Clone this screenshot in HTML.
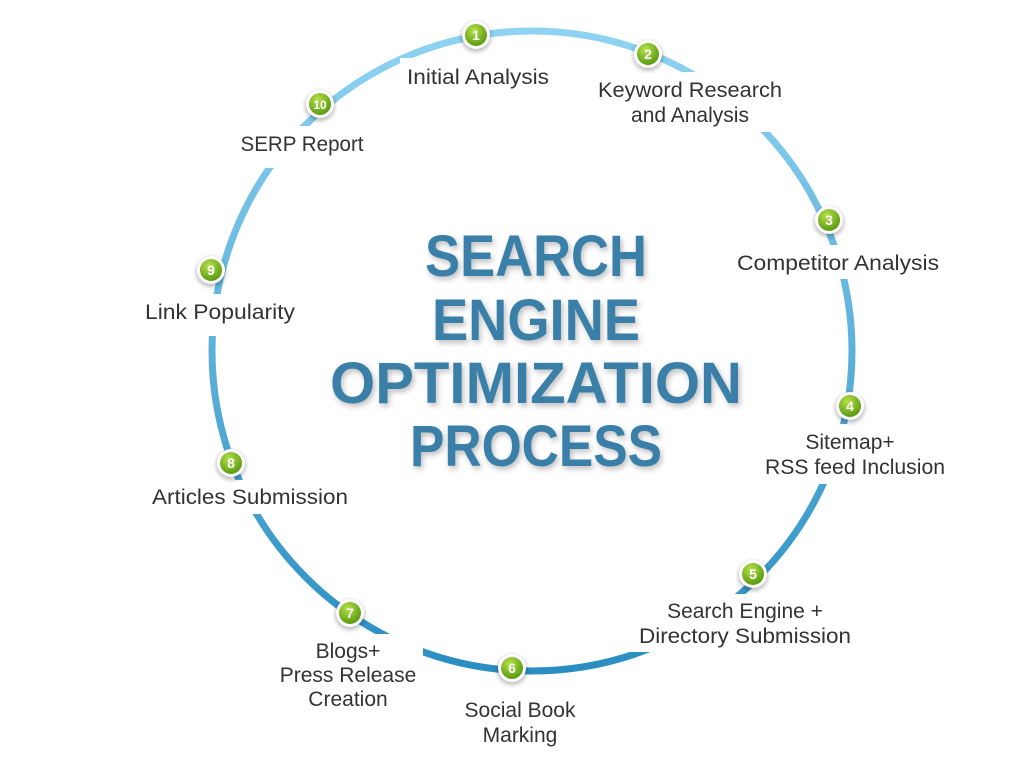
<!DOCTYPE html>
<html><head><meta charset="utf-8"><style>
html,body{margin:0;padding:0;background:#fff}
svg{display:block}
.l{font-family:"Liberation Sans",sans-serif;font-size:21px;fill:#333;text-anchor:middle}
.t{font-family:"Liberation Sans",sans-serif;font-weight:bold;font-size:58px;fill:#3a7fa8;text-anchor:middle}
.n{font-family:"Liberation Sans",sans-serif;font-weight:bold;font-size:14px;fill:#fff;text-anchor:middle}
</style></head><body>
<svg width="1024" height="768" viewBox="0 0 1024 768">
<defs>
<linearGradient id="ag" x1="0" y1="0" x2="0" y2="1">
<stop offset="0" stop-color="#8fd3f2"/><stop offset="1" stop-color="#2a8ec2"/></linearGradient>
<radialGradient id="ng" cx="0.4" cy="0.3" r="0.7">
<stop offset="0" stop-color="#b6e04a"/><stop offset="1" stop-color="#5a9a10"/></radialGradient>
<filter id="sh"><feGaussianBlur stdDeviation="2"/></filter>
</defs>
<circle cx="532" cy="351" r="320" fill="none" stroke="url(#ag)" stroke-width="7"/>
<g fill="#fff">
<rect x="400" y="58" width="155" height="30"/>
<rect x="590" y="72" width="200" height="60"/>
<rect x="730" y="245" width="215" height="34"/>
<rect x="760" y="424" width="195" height="60"/>
<rect x="630" y="594" width="230" height="58"/>
<rect x="455" y="692" width="130" height="60"/>
<rect x="275" y="634" width="148" height="80"/>
<rect x="145" y="480" width="210" height="34"/>
<rect x="140" y="294" width="160" height="42"/>
<rect x="232" y="126" width="140" height="42"/>
</g>
<g class="t" style="filter:drop-shadow(2px 3px 3px rgba(0,0,0,0.25))">
<text x="536" y="276" textLength="222" lengthAdjust="spacingAndGlyphs">SEARCH</text>
<text x="536" y="340" textLength="208" lengthAdjust="spacingAndGlyphs">ENGINE</text>
<text x="536" y="403" textLength="412" lengthAdjust="spacingAndGlyphs">OPTIMIZATION</text>
<text x="536" y="466" textLength="252" lengthAdjust="spacingAndGlyphs">PROCESS</text>
</g>
<g class="l">
<text x="478" y="84" textLength="142" lengthAdjust="spacingAndGlyphs">Initial Analysis</text>
<text x="690" y="97" textLength="184" lengthAdjust="spacingAndGlyphs">Keyword Research</text><text x="690" y="122">and Analysis</text>
<text x="838" y="270" textLength="202" lengthAdjust="spacingAndGlyphs">Competitor Analysis</text>
<text x="850" y="449">Sitemap+</text><text x="855" y="474" textLength="180" lengthAdjust="spacingAndGlyphs">RSS feed Inclusion</text>
<text x="745" y="618">Search Engine +</text><text x="745" y="643" textLength="212" lengthAdjust="spacingAndGlyphs">Directory Submission</text>
<text x="520" y="717">Social Book</text><text x="520" y="742">Marking</text>
<text x="348" y="658">Blogs+</text><text x="348" y="682">Press Release</text><text x="348" y="706">Creation</text>
<text x="250" y="504" textLength="196" lengthAdjust="spacingAndGlyphs">Articles Submission</text>
<text x="220" y="319" textLength="150" lengthAdjust="spacingAndGlyphs">Link Popularity</text>
<text x="302" y="151" textLength="123" lengthAdjust="spacingAndGlyphs">SERP Report</text>
</g>
<g>
<g transform="translate(476,35)"><circle r="15" fill="#000" opacity="0.25" filter="url(#sh)" cy="2"/><circle r="14" fill="#fff"/><circle r="11" fill="url(#ng)"/><text class="n" y="5">1</text></g>
<g transform="translate(648,54)"><circle r="15" fill="#000" opacity="0.25" filter="url(#sh)" cy="2"/><circle r="14" fill="#fff"/><circle r="11" fill="url(#ng)"/><text class="n" y="5">2</text></g>
<g transform="translate(829,220)"><circle r="15" fill="#000" opacity="0.25" filter="url(#sh)" cy="2"/><circle r="14" fill="#fff"/><circle r="11" fill="url(#ng)"/><text class="n" y="5">3</text></g>
<g transform="translate(850,406)"><circle r="15" fill="#000" opacity="0.25" filter="url(#sh)" cy="2"/><circle r="14" fill="#fff"/><circle r="11" fill="url(#ng)"/><text class="n" y="5">4</text></g>
<g transform="translate(753,574)"><circle r="15" fill="#000" opacity="0.25" filter="url(#sh)" cy="2"/><circle r="14" fill="#fff"/><circle r="11" fill="url(#ng)"/><text class="n" y="5">5</text></g>
<g transform="translate(512,668)"><circle r="15" fill="#000" opacity="0.25" filter="url(#sh)" cy="2"/><circle r="14" fill="#fff"/><circle r="11" fill="url(#ng)"/><text class="n" y="5">6</text></g>
<g transform="translate(350,613)"><circle r="15" fill="#000" opacity="0.25" filter="url(#sh)" cy="2"/><circle r="14" fill="#fff"/><circle r="11" fill="url(#ng)"/><text class="n" y="5">7</text></g>
<g transform="translate(231,463)"><circle r="15" fill="#000" opacity="0.25" filter="url(#sh)" cy="2"/><circle r="14" fill="#fff"/><circle r="11" fill="url(#ng)"/><text class="n" y="5">8</text></g>
<g transform="translate(211,270)"><circle r="15" fill="#000" opacity="0.25" filter="url(#sh)" cy="2"/><circle r="14" fill="#fff"/><circle r="11" fill="url(#ng)"/><text class="n" y="5">9</text></g>
<g transform="translate(320,104)"><circle r="15" fill="#000" opacity="0.25" filter="url(#sh)" cy="2"/><circle r="14" fill="#fff"/><circle r="11" fill="url(#ng)"/><text class="n" y="5" style="font-size:12px">10</text></g>
</g>
</svg>
</body></html>
